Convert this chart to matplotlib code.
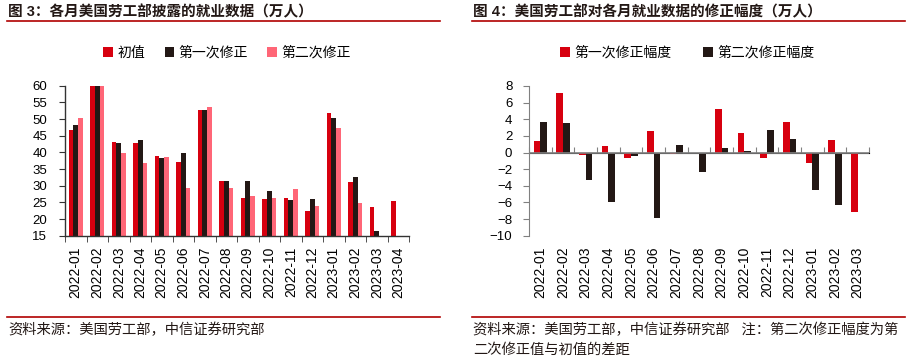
import numpy as np
import matplotlib
matplotlib.use('Agg')
import matplotlib.pyplot as plt
from matplotlib.lines import Line2D

plt.rcParams['font.family'] = ['Liberation Sans', 'Noto Sans CJK SC']

nan = np.nan
# ---- Figure 3 data (万人) ----
months = ['2022-01', '2022-02', '2022-03', '2022-04', '2022-05', '2022-06', '2022-07', '2022-08',
          '2022-09', '2022-10', '2022-11', '2022-12', '2023-01', '2023-02', '2023-03', '2023-04']
initial = [46.7, 67.8, 43.1, 42.8, 39.0, 37.2, 52.8, 31.5, 26.3, 26.1, 26.3, 22.3, 51.7, 31.1, 23.6, 25.3]
first_rev = [48.1, 75.0, 42.8, 43.6, 38.4, 39.8, 52.6, 31.5, 31.5, 28.4, 25.6, 26.0, 50.4, 32.6, 16.5, nan]
second_rev = [50.4, 71.4, 39.8, 36.8, 38.6, 29.3, 53.7, 29.2, 26.9, 26.3, 29.0, 23.9, 47.2, 24.8, nan, nan]

# ---- Figure 4 data (万人) ----
months4 = ['2022-01', '2022-02', '2022-03', '2022-04', '2022-05', '2022-06', '2022-07', '2022-08',
           '2022-09', '2022-10', '2022-11', '2022-12', '2023-01', '2023-02', '2023-03']
rev1 = [1.4, 7.2, -0.3, 0.8, -0.6, 2.6, -0.2, 0.0, 5.2, 2.3, -0.7, 3.7, -1.3, 1.5, -7.1]
rev2 = [3.7, 3.6, -3.3, -6.0, -0.4, -7.9, 0.9, -2.3, 0.6, 0.2, 2.7, 1.6, -4.5, -6.3, nan]

RED = '#D7000F'
BLACK = '#231815'
PINK = '#FF6677'
LINE = '#B00000'
TXT = '#231815'
FS = 9.5
XFS = 10

fig = plt.figure(figsize=(9.23, 3.62), dpi=100)
W, H = 923, 362

def fx(px):
    return px / W

def fy(py):
    return 1 - py / H

# Titles and decorative lines
fig.text(fx(8), fy(12), '图 3：各月美国劳工部披露的就业数据（万人）', fontsize=10.5, color=TXT,
         va='center', ha='left', fontweight='bold')
fig.text(fx(473), fy(12), '图 4：美国劳工部对各月就业数据的修正幅度（万人）', fontsize=10.5, color=TXT,
         va='center', ha='left', fontweight='bold')
for x0, x1 in [(7, 440), (472, 905)]:
    fig.add_artist(Line2D([fx(x0), fx(x1)], [fy(21), fy(21)], color=LINE, lw=1.2))
    fig.add_artist(Line2D([fx(x0), fx(x1)], [fy(317), fy(317)], color=LINE, lw=1.2))

fig.text(fx(8), fy(330), '资料来源：美国劳工部，中信证券研究部', fontsize=10.3, color=TXT, va='center', ha='left')
fig.text(fx(473), fy(330), '资料来源：美国劳工部，中信证券研究部   注：第二次修正幅度为第',
         fontsize=10.3, color=TXT, va='center', ha='left')
fig.text(fx(473), fy(350), '二次修正值与初值的差距', fontsize=10.3, color=TXT, va='center', ha='left')

# ---------------- Left chart ----------------
ax1 = fig.add_axes([fx(65), fy(235.7), fx(409 - 65), fy(85.7) - fy(235.7)])
x = np.arange(len(months))
bw = 0.22
ax1.bar(x - bw, initial, bw, color=RED, label='初值')
ax1.bar(x, first_rev, bw, color=BLACK, label='第一次修正')
ax1.bar(x + bw, second_rev, bw, color=PINK, label='第二次修正')
ax1.set_xlim(-0.5, len(months) - 0.5)
ax1.set_ylim(15, 60)
ax1.set_yticks(np.arange(15, 61, 5))
ax1.set_xticks(x)
ax1.set_xticklabels(months, rotation=90)
ax1.set_xticks(np.arange(-0.5, len(months), 1), minor=True)
ax1.tick_params(axis='x', which='major', length=0, labelsize=XFS, pad=8)
ax1.tick_params(axis='x', which='minor', length=4, color='#333333', direction='out')
ax1.tick_params(axis='y', labelsize=FS, length=4, color='#333333', pad=9)
for s in ['top', 'right']:
    ax1.spines[s].set_visible(False)
for s in ['left', 'bottom']:
    ax1.spines[s].set_color('#333333')
    ax1.spines[s].set_linewidth(1.0)

h1, l1 = ax1.get_legend_handles_labels()
fig.legend(h1, l1, loc='center', bbox_to_anchor=(fx(227), fy(53)), ncol=3, frameon=False,
           fontsize=10, handlelength=0.7, handleheight=0.7, handletextpad=0.3, columnspacing=1.4)

# ---------------- Right chart ----------------
ax2 = fig.add_axes([fx(529), fy(235.7), fx(869 - 529), fy(86) - fy(235.7)])
x2 = np.arange(len(months4))
bw2 = 0.29
ax2.bar(x2 - bw2 / 2, rev1, bw2, color=RED, label='第一次修正幅度')
ax2.bar(x2 + bw2 / 2, rev2, bw2, color=BLACK, label='第二次修正幅度')
ax2.set_xlim(-0.5, len(months4) - 0.5)
ax2.set_ylim(-10, 8)
ax2.set_yticks(np.arange(-10, 9, 2))
ax2.set_xticks(x2)
ax2.set_xticklabels(months4, rotation=90)
ax2.tick_params(axis='x', which='major', length=0, labelsize=XFS, pad=8)
ax2.tick_params(axis='y', labelsize=FS, length=4, color='#808080', pad=8)
for s in ['top', 'right', 'bottom']:
    ax2.spines[s].set_visible(False)
ax2.spines['left'].set_color('#808080')
ax2.axhline(0, color='#808080', lw=1.2, zorder=3)
ylo, yhi = ax2.get_ylim()
zero_frac = (0 - ylo) / (yhi - ylo)
sec = ax2.secondary_xaxis(zero_frac)
sec.set_xticks(np.arange(-0.5, len(months4), 1))
sec.set_xticklabels([])
sec.tick_params(axis='x', length=4, color='#808080', direction='out')
sec.spines['bottom'].set_visible(False)

h2, l2 = ax2.get_legend_handles_labels()
fig.legend(h2, l2, loc='center', bbox_to_anchor=(fx(687), fy(53)), ncol=2, frameon=False,
           fontsize=10, handlelength=0.7, handleheight=0.7, handletextpad=0.3, columnspacing=2.3)

fig.savefig('out.png', dpi=100)
